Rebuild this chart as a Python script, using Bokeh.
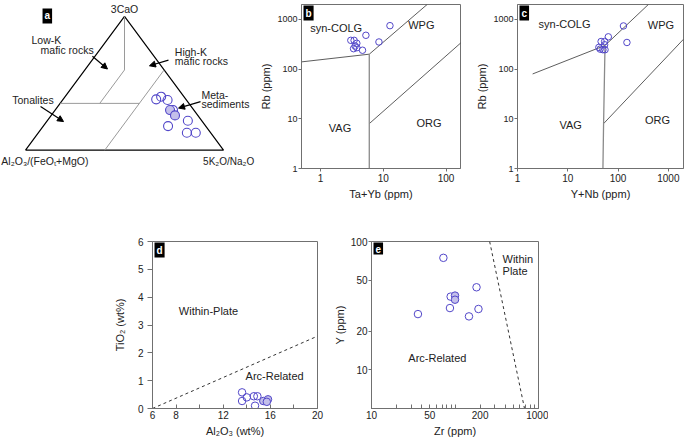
import numpy as np
from bokeh.plotting import figure
from bokeh.layouts import column, row
from bokeh.models import (Range1d, Label, Arrow, NormalHead, FixedTicker,
                          Spacer, PrintfTickFormatter)
from bokeh.embed import file_html
from bokeh.resources import INLINE

FONT = "Liberation Sans"
TXT = "#222222"
FRAME = "#707070"
CIRC = "#5247c9"
FILLC = "#c4c0ea"

# ---------------- data ----------------
# (a) ternary 3CaO - Al2O3/(FeOt+MgO) - 5K2O/Na2O (fractions)
tern_cao = [0.38, 0.40, 0.375, 0.30, 0.30, 0.26, 0.18, 0.22, 0.13, 0.13]
tern_k = [0.47, 0.485, 0.53, 0.58, 0.595, 0.625, 0.63, 0.71, 0.75, 0.795]
tern_filled = [False, False, False, True, False, True, False, False, False, False]
# field boundaries (pairs of cao / k fractions)
field_cao = [[1.0, 0.6], [0.6, 0.35], [0.35, 0.35], [0.6, 0.0]]
field_k = [[0.0, 0.2], [0.2, 0.2], [0.0, 0.4], [0.4, 0.4]]

# (b) Rb vs Ta+Yb
b_tayb = [12.8, 5.3, 3.05, 3.44, 8.55, 3.8, 3.57, 3.37, 3.8, 4.68]
b_rb = [750, 480, 380, 380, 352, 331, 292, 258, 270, 240]
b_lines_x = [[0.5, 6], [6, 6], [6, 50], [6, 200]]
b_lines_y = [[140, 200], [1, 200], [200, 2000], [8, 400]]

# (c) Rb vs Y+Nb
c_ynb = [128, 64, 150, 46, 54, 54, 44, 50, 55, 41.5]
c_rb = [740, 447, 344, 360, 360, 310, 253, 246, 246, 274]
c_lines_x = [[2, 55], [55, 400], [51.5, 2000]]
c_lines_y = [[80, 300], [300, 2000], [8, 400]]
c_vert_x = [50, 51.5, 55]
c_vert_y = [1, 8, 300]

# (d) TiO2 vs Al2O3
d_al2o3 = [13.6, 14.0, 13.6, 14.6, 14.9, 14.7]
d_tio2 = [0.58, 0.40, 0.27, 0.44, 0.44, 0.10]
d_al2o3_f = [15.4, 15.8, 15.7]
d_tio2_f = [0.27, 0.33, 0.24]
d_line_x = [6, 20]
d_line_y = [0, 2.6]

# (e) Y vs Zr
e_zr = [72.6, 181, 88.7, 87, 191, 147, 36]
e_y = [74.6, 44, 37.2, 30.3, 29.8, 26.1, 27.2]
e_zr_f = [100, 100]
e_y_f = [37.9, 35.2]
e_line_x = [260, 680]
e_line_y = [100, 5]


def style_axes(p, x_in=False, ysize="10px"):
    for ax in p.axis:
        ax.axis_line_color = FRAME
        ax.major_tick_line_color = FRAME
        ax.minor_tick_line_color = FRAME
        ax.major_tick_out = 3
        ax.major_tick_in = 0
        ax.minor_tick_out = 3
        ax.minor_tick_in = 0
        ax.major_label_text_font = FONT
        ax.major_label_text_font_size = "10px"
        ax.major_label_text_color = TXT
        ax.major_label_standoff = 2
        ax.axis_label_text_font = FONT
        ax.axis_label_text_font_size = "11px"
        ax.axis_label_text_font_style = "normal"
        ax.axis_label_text_color = TXT
        ax.axis_label_standoff = 3
    for ax in p.yaxis:
        ax.major_label_text_font_size = ysize
        ax.major_label_standoff = 1
        ax.axis_label_standoff = 2
    if x_in:
        for ax in p.xaxis:
            ax.major_tick_in = 4
            ax.major_tick_out = 0
            ax.minor_tick_in = 4
            ax.minor_tick_out = 0
    p.grid.visible = False
    p.outline_line_color = FRAME
    p.outline_line_width = 1


def label(p, x, y, s, align="left", baseline="middle", size="11px"):
    p.add_layout(Label(x=x, y=y, text=s, text_align=align, text_baseline=baseline,
                       text_font=FONT, text_font_size=size, text_color=TXT))


def corner(p, x, y, s):
    p.add_layout(Label(x=x, y=y, text=s, text_align="left", text_baseline="top",
                       x_offset=2, y_offset=-1, text_font=FONT, text_font_size="10px",
                       text_font_style="bold", text_color="white",
                       background_fill_color="black", padding=2))


# ---------------- panel a ----------------
def tern_xy(c, k):
    c = np.asarray(c, dtype=float)
    k = np.asarray(k, dtype=float)
    return k + 0.5 * c, c

pa = figure(width=255, height=206, x_range=Range1d(-0.1263, 1.1616),
            y_range=Range1d(-0.1369, 1.0893), output_backend="svg",
            toolbar_location=None, x_axis_location=None, y_axis_location=None,
            min_border=0)
pa.grid.visible = False
pa.outline_line_color = None
tx, ty = tern_xy([0, 0, 1, 0], [0, 1, 0, 0])
pa.line(tx, ty, line_color="black", line_width=1.2)
fxs, fys = [], []
for cc, kk in zip(field_cao, field_k):
    fx, fy = tern_xy(cc, kk)
    fxs.append(list(fx))
    fys.append(list(fy))
pa.multi_line(fxs, fys, line_color="#9a9a9a", line_width=1)
px_, py_ = tern_xy(tern_cao, tern_k)
op = [i for i, f in enumerate(tern_filled) if not f]
fl = [i for i, f in enumerate(tern_filled) if f]
pa.scatter(px_[op], py_[op], size=9, marker="circle", line_color=CIRC, fill_color=None, line_width=1.1)
pa.scatter(px_[fl], py_[fl], size=9, marker="circle", line_color=CIRC, fill_color=FILLC, line_width=1.1)

label(pa, 0.5, 1.012, "3CaO", align="center", baseline="bottom", size="10.5px")
label(pa, -0.122, -0.083, "Al₂O₃/(FeOₜ+MgO)", size="10.5px")
label(pa, 0.897, -0.083, "5K₂O/Na₂O", size="10px")
label(pa, 0.030, 0.826, "Low-K", size="10.5px")
label(pa, 0.076, 0.748, "mafic rocks", size="10.5px")
label(pa, 0.754, 0.732, "High-K", size="10.5px")
label(pa, 0.754, 0.664, "mafic rocks", size="10.5px")
label(pa, -0.067, 0.375, "Tonalites", size="10.5px")
label(pa, 0.889, 0.415, "Meta-", size="10.5px")
label(pa, 0.889, 0.342, "sediments", size="10.5px")
for (xs, ys, xe, ye) in [(0.338, 0.702, 0.414, 0.607), (0.722, 0.673, 0.626, 0.631),
                         (0.076, 0.327, 0.192, 0.214), (0.884, 0.363, 0.773, 0.315)]:
    pa.add_layout(Arrow(end=NormalHead(size=6, fill_color="black", line_color="black"),
                        x_start=xs, y_start=ys, x_end=xe, y_end=ye,
                        line_color="black", line_width=1.2))
pa.add_layout(Label(x=0.086, y=1.06, text="a", text_align="left", text_baseline="top",
                    text_font=FONT, text_font_size="10px", text_font_style="bold",
                    text_color="white", background_fill_color="black", padding=2))

# ---------------- panel b ----------------
pb = figure(width=215, height=206, x_axis_type="log", y_axis_type="log",
            x_range=Range1d(0.5, 170), y_range=Range1d(1, 2000),
            output_backend="svg", toolbar_location=None,
            min_border_left=46, min_border_right=10, min_border_top=4, min_border_bottom=38)
style_axes(pb, ysize="9px")
pb.xaxis.ticker = FixedTicker(ticks=[1, 10, 100])
pb.yaxis.ticker = FixedTicker(ticks=[1, 10, 100, 1000])
pb.xaxis.formatter = PrintfTickFormatter(format="%d")
pb.yaxis.formatter = PrintfTickFormatter(format="%d")
pb.xaxis.axis_label = "Ta+Yb (ppm)"
pb.yaxis.axis_label = "Rb (ppm)"
pb.multi_line([b_lines_x[0], b_lines_x[2], b_lines_x[3]], [b_lines_y[0], b_lines_y[2], b_lines_y[3]],
              line_color="#333333", line_width=0.8)
pb.line(b_lines_x[1], b_lines_y[1], line_color="#8a8a8a", line_width=1.3)
pb.scatter(b_tayb, b_rb, size=6.5, marker="circle", line_color=CIRC, fill_color=None, line_width=1)
label(pb, 0.687, 680, "syn-COLG")
label(pb, 25, 760, "WPG")
label(pb, 2.05, 6.6, "VAG", align="center")
label(pb, 53.7, 8.2, "ORG", align="center")
corner(pb, 0.5, 2000, "b")

# ---------------- panel c ----------------
pc = figure(width=215, height=206, x_axis_type="log", y_axis_type="log",
            x_range=Range1d(1, 2000), y_range=Range1d(1, 2000),
            output_backend="svg", toolbar_location=None,
            min_border_left=47, min_border_right=2, min_border_top=4, min_border_bottom=38)
style_axes(pc, ysize="9px")
pc.xaxis.ticker = FixedTicker(ticks=[1, 10, 100, 1000])
pc.yaxis.ticker = FixedTicker(ticks=[1, 10, 100, 1000])
pc.xaxis.formatter = PrintfTickFormatter(format="%d")
pc.yaxis.formatter = PrintfTickFormatter(format="%d")
pc.xaxis.axis_label = "Y+Nb (ppm)"
pc.yaxis.axis_label = "Rb (ppm)"
pc.multi_line(c_lines_x, c_lines_y, line_color="#333333", line_width=0.8)
pc.line(c_vert_x, c_vert_y, line_color="#8a8a8a", line_width=1.3)
pc.scatter(c_ynb, c_rb, size=6.5, marker="circle", line_color=CIRC, fill_color=None, line_width=1)
label(pc, 8.6, 796, "syn-COLG", align="center")
label(pc, 713, 760, "WPG", align="center")
label(pc, 11.4, 7.6, "VAG", align="center")
label(pc, 606, 9.5, "ORG", align="center")
corner(pc, 1, 2000, "c")

# ---------------- panel d ----------------
pd_ = figure(width=218, height=234, x_range=Range1d(6, 20), y_range=Range1d(0, 6),
             output_backend="svg", toolbar_location=None,
             min_border_left=43, min_border_right=10, min_border_top=35, min_border_bottom=32)
style_axes(pd_, x_in=True)
pd_.yaxis.major_tick_out = 5
pd_.yaxis.major_label_standoff = 4
pd_.yaxis.axis_label_standoff = 9
pd_.xaxis.ticker = FixedTicker(ticks=[6, 8, 12, 16, 20], minor_ticks=[10, 14, 18])
pd_.yaxis.ticker = FixedTicker(ticks=[0, 1, 2, 3, 4, 5, 6])
pd_.xaxis.axis_label = "Al₂O₃ (wt%)"
pd_.yaxis.axis_label = "TiO₂ (wt%)"
pd_.line(d_line_x, d_line_y, line_color="#333333", line_width=1, line_dash="3 3")
pd_.scatter(d_al2o3, d_tio2, size=7.5, marker="circle", line_color=CIRC, fill_color=None, line_width=1)
pd_.scatter(d_al2o3_f, d_tio2_f, size=7.5, marker="circle", line_color=CIRC, fill_color=FILLC, line_width=1)
label(pd_, 10.75, 3.51, "Within-Plate", align="center")
label(pd_, 16.36, 1.18, "Arc-Related", align="center")
corner(pd_, 6, 6, "d")

# ---------------- panel e ----------------
pe = figure(width=221, height=234, x_axis_type="log", y_axis_type="log",
            x_range=Range1d(10, 1000), y_range=Range1d(5, 100),
            output_backend="svg", toolbar_location=None,
            min_border_left=44, min_border_right=10, min_border_top=35, min_border_bottom=32)
style_axes(pe, x_in=True)
pe.xaxis.ticker = FixedTicker(ticks=[10, 50, 200, 1000],
                              minor_ticks=[20, 30, 40, 60, 70, 80, 90, 100, 300, 400, 500, 600, 700, 800, 900])
pe.yaxis.ticker = FixedTicker(ticks=[10, 20, 50, 100])
pe.xaxis.formatter = PrintfTickFormatter(format="%d")
pe.yaxis.formatter = PrintfTickFormatter(format="%d")
pe.xaxis.axis_label = "Zr (ppm)"
pe.yaxis.axis_label = "Y (ppm)"
pe.line(e_line_x, e_line_y, line_color="#333333", line_width=1, line_dash="3 3")
pe.scatter(e_zr, e_y, size=7.5, marker="circle", line_color=CIRC, fill_color=None, line_width=1)
pe.scatter(e_zr_f, e_y_f, size=7.5, marker="circle", line_color=CIRC, fill_color=FILLC, line_width=1)
label(pe, 371, 73.2, "Within")
label(pe, 371, 59.3, "Plate")
label(pe, 61.5, 12.3, "Arc-Related", align="center")
corner(pe, 10, 100, "e")

layout = column(row(pa, pb, pc), row(Spacer(width=109, height=234), pd_, pe))
open("out.html", "w").write(file_html(layout, INLINE))
